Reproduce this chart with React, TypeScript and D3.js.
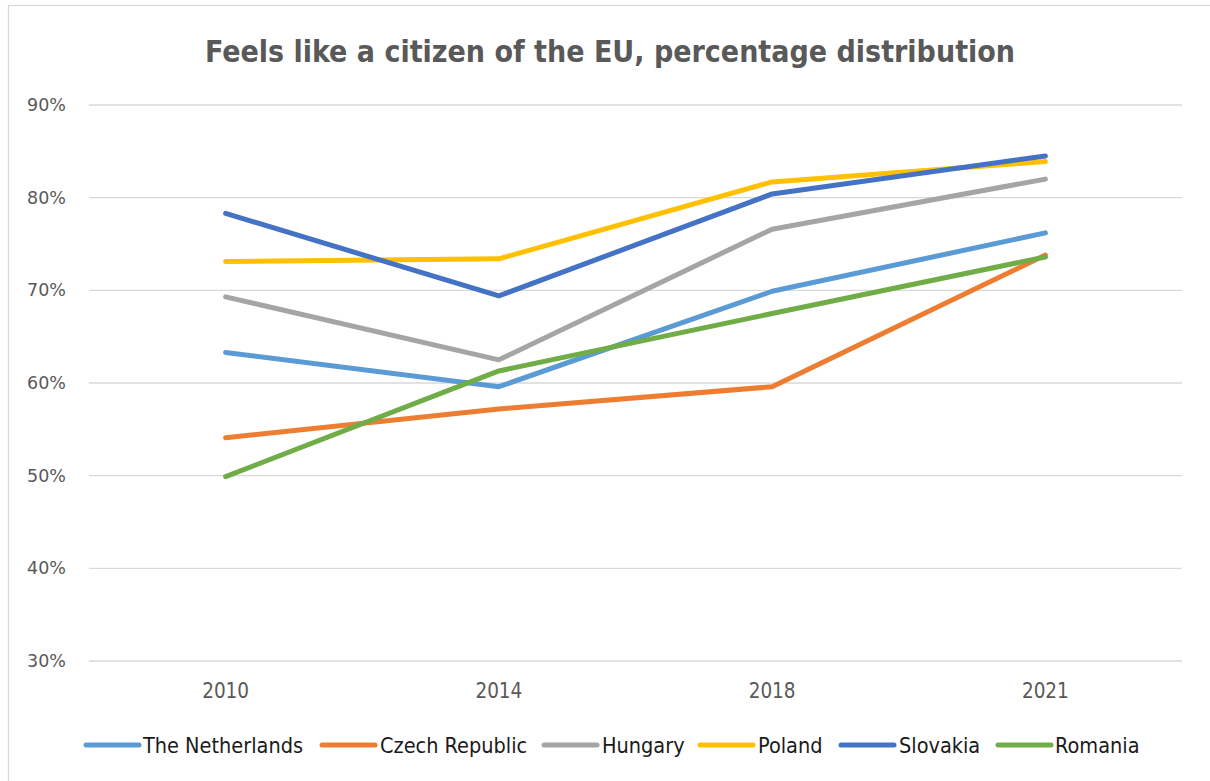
import React from "react";
import * as d3 from "d3";

const years = ["2010", "2014", "2018", "2021"];
const netherlands = [63.3, 59.6, 69.9, 76.2];
const czechRepublic = [54.1, 57.2, 59.6, 73.8];
const hungary = [69.3, 62.5, 76.6, 82.0];
const poland = [73.1, 73.4, 81.7, 83.9];
const slovakia = [78.3, 69.4, 80.4, 84.5];
const romania = [49.9, 61.3, 67.5, 73.6];
const yTicks = [30, 40, 50, 60, 70, 80, 90];

const seriesNames = ["The Netherlands", "Czech Republic", "Hungary", "Poland", "Slovakia", "Romania"];
const seriesValues = [netherlands, czechRepublic, hungary, poland, slovakia, romania];
const seriesColors = ["#5B9BD5", "#ED7D31", "#A5A5A5", "#FFC000", "#4472C4", "#70AD47"];

const title = "Feels like a citizen of the EU, percentage distribution";

const W = 1210;
const H = 781;
const plotLeft = 89;
const plotRight = 1182;
const plotTop = 105;
const plotBottom = 661;

const narrow = "'Liberation Sans Narrow', 'DejaVu Sans Condensed', 'Arial Narrow', sans-serif";

export default function App() {
  const x = d3.scaleBand<string>().domain(years).range([plotLeft, plotRight]);
  const y = d3.scaleLinear().domain([30, 90]).range([plotBottom, plotTop]);
  const line = d3
    .line<number>()
    .x((_, i) => (x(years[i]) as number) + x.bandwidth() / 2)
    .y((d) => y(d));

  const legendItems = [
    { lineX: 86, textX: 143 },
    { lineX: 322, textX: 380 },
    { lineX: 544, textX: 602 },
    { lineX: 700, textX: 758 },
    { lineX: 841, textX: 899 },
    { lineX: 998, textX: 1055 },
  ];

  return (
    <svg
      width={W}
      height={H}
      style={{ position: "absolute", left: 0, top: 0, display: "block", background: "#fff" }}
    >
      <rect x={0} y={0} width={W} height={H} fill="#ffffff" />
      <rect x={8.5} y={5.5} width={W + 20} height={H + 20} fill="none" stroke="#D9D9D9" strokeWidth={1.3} />
      <text
        x={610}
        y={62}
        textAnchor="middle"
        fontFamily={narrow}
        fontWeight="bold"
        fontSize={30}
        fill="#595959"
      >
        {title}
      </text>
      {yTicks.map((t) => (
        <g key={t}>
          <line x1={plotLeft} x2={plotRight} y1={y(t)} y2={y(t)} stroke="#D9D9D9" strokeWidth={1.3} />
          <text
            x={66}
            y={y(t)}
            dy="0.35em"
            textAnchor="end"
            fontFamily="'DejaVu Sans', sans-serif"
            fontSize={17.5}
            fill="#595959"
          >
            {t}%
          </text>
        </g>
      ))}
      {years.map((yr) => (
        <text
          key={yr}
          x={(x(yr) as number) + x.bandwidth() / 2}
          y={691}
          dy="0.35em"
          textAnchor="middle"
          fontFamily={narrow}
          fontSize={20.5}
          fill="#595959"
        >
          {yr}
        </text>
      ))}
      {seriesValues.map((vals, i) => (
        <path
          key={seriesNames[i]}
          d={line(vals) as string}
          fill="none"
          stroke={seriesColors[i]}
          strokeWidth={5}
          strokeLinecap="round"
          strokeLinejoin="round"
        />
      ))}
      {seriesNames.map((name, i) => (
        <g key={name}>
          <line
            x1={legendItems[i].lineX}
            x2={legendItems[i].lineX + 53}
            y1={745}
            y2={745}
            stroke={seriesColors[i]}
            strokeWidth={5}
            strokeLinecap="round"
          />
          <text
            x={legendItems[i].textX}
            y={745}
            dy="0.35em"
            fontFamily={narrow}
            fontSize={21.5}
            fill="#1a1a1a"
          >
            {name}
          </text>
        </g>
      ))}
    </svg>
  );
}
